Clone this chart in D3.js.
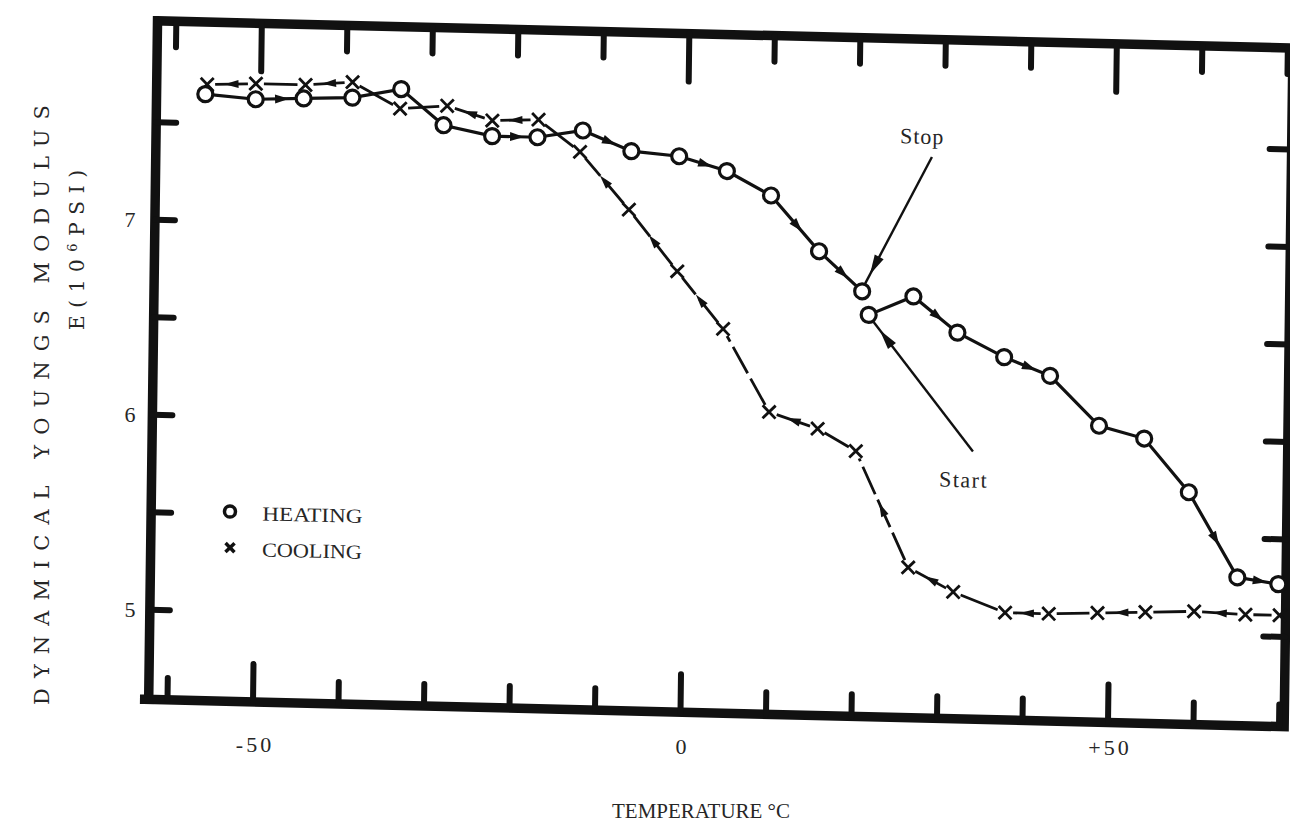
<!DOCTYPE html>
<html><head><meta charset="utf-8">
<script src="https://cdn.jsdelivr.net/npm/d3@7"></script>
<style>
body{margin:0;background:#fff}
svg{display:block}
text{font-family:"Liberation Serif","DejaVu Serif",serif;fill:#262626}
</style>
</head><body>
<svg id="chart" width="1290" height="829"></svg>
<script>
// ---- data (temperature °C, modulus 10^6 psi) ----
const tempHeatA = [-56.5,-50.6,-45.0,-39.3,-33.6,-28.6,-22.9,-17.6,-12.3,-6.6,-1.0,4.6,9.8,15.5,20.6];
const modHeatA  = [7.65,7.63,7.64,7.65,7.70,7.52,7.47,7.47,7.51,7.41,7.39,7.32,7.20,6.92,6.72];
const tempHeatB = [21.4,26.6,31.8,37.3,42.7,48.5,53.8,59.1,64.9,69.7];
const modHeatB  = [6.60,6.70,6.52,6.40,6.31,6.06,6.00,5.73,5.30,5.27];
const tempCool  = [69.9,65.9,59.9,54.2,48.6,42.9,37.8,31.7,26.4,20.1,15.6,9.9,4.4,-1.05,-6.8,-12.6,-17.5,-22.9,-28.2,-33.7,-39.3,-44.8,-50.6,-56.3];
const modCool   = [5.11,5.11,5.12,5.11,5.10,5.09,5.09,5.19,5.31,5.90,6.01,6.09,6.51,6.80,7.11,7.40,7.56,7.55,7.62,7.60,7.73,7.71,7.71,7.70];
const heatArrowsA = [1,6,8,10,12,13];
const heatArrowsB = [1,3,7,8];
const coolArrows  = [1,3,5,7,8,10,12,13,14,16,17,20,22];
const xTicks = [-60,-50,-40,-30,-20,-10,0,10,20,30,40,50,60,70];
const xMajor = [-50,0,50];
const yTicks = [5,5.5,6,6.5,7,7.5];
const xLabelValues = [-50,0,50];
const xLabelTexts  = ["-50","0","+50"];
const yLabelValues = [5,6,7];
const seriesNames = ["HEATING","COOLING"];

const svg = d3.select("#chart");
const x = d3.scaleLinear().domain([-50,50]).range([253,1108]);
const y = d3.scaleLinear().domain([5,7]).range([610,220]);

// scanned page is slightly skewed
const skA = -0.013, skB = 0.024, pvX = 160, pvY = 700;
const g = svg.append("g")
  .attr("transform", `matrix(1,${skB},${skA},1,${-skA*pvY},${-skB*pvX})`);

const ink = "#111";
const xL = x(-62.2), xR = x(70.6), yT = y(8.02), yB = y(4.54);

// frame
g.append("path")
  .attr("d", `M${xL},${yT}H${xR}V${yB}H${xL-4}M${xL},${yB}V${yT}`)
  .attr("fill","none").attr("stroke",ink).attr("stroke-width",9.5)
  .attr("stroke-linejoin","miter").attr("stroke-linecap","square");

// ticks
const tickW = 6;
g.selectAll(".tt").data(xTicks).join("line")
  .attr("x1",d=>x(d)).attr("x2",d=>x(d))
  .attr("y1",yT).attr("y2",d=>yT + (xMajor.includes(d)?48:26))
  .attr("stroke",ink).attr("stroke-width",tickW).attr("stroke-linecap","round");
g.selectAll(".bt").data(xTicks).join("line")
  .attr("x1",d=>x(d)).attr("x2",d=>x(d))
  .attr("y1",yB).attr("y2",d=>yB - (xMajor.includes(d)?38:22))
  .attr("stroke",ink).attr("stroke-width",tickW).attr("stroke-linecap","round");
g.selectAll(".lt").data(yTicks).join("line")
  .attr("x1",xL).attr("x2",xL+20)
  .attr("y1",d=>y(d)).attr("y2",d=>y(d))
  .attr("stroke",ink).attr("stroke-width",tickW).attr("stroke-linecap","round");
g.selectAll(".rt").data(yTicks).join("line")
  .attr("x1",xR).attr("x2",xR-22)
  .attr("y1",d=>y(d)).attr("y2",d=>y(d))
  .attr("stroke",ink).attr("stroke-width",tickW).attr("stroke-linecap","round");

// helpers
const pts = (ts, es) => ts.map((t,i)=>[x(t), y(es[i])]);
const heatA = pts(tempHeatA, modHeatA);
const heatB = pts(tempHeatB, modHeatB);
const cool  = pts(tempCool, modCool);
const line = d3.line();

function arrowAt(p0, p1, len, wid, frac){
  if (!p0 || !p1) return;
  const a = Math.atan2(p1[1]-p0[1], p1[0]-p0[0]);
  const mx = p0[0] + (p1[0]-p0[0])*frac, my = p0[1] + (p1[1]-p0[1])*frac;
  g.append("path")
    .attr("d", `M${len/2},0L${-len/2},${-wid/2}L${-len/2},${wid/2}Z`)
    .attr("transform", `translate(${mx},${my}) rotate(${a*180/Math.PI})`)
    .attr("fill", ink);
}

// cooling line (broken segments)
const gap = 8;
for (let i=0;i<cool.length-1;i++){
  const p0 = cool[i], p1 = cool[i+1];
  const dx = p1[0]-p0[0], dy = p1[1]-p0[1], L = Math.hypot(dx,dy);
  const ux = dx/L, uy = dy/L;
  const s = [p0[0]+ux*gap, p0[1]+uy*gap], e = [p1[0]-ux*gap, p1[1]-uy*gap];
  g.append("path").attr("d", line([s,e]))
    .attr("stroke",ink).attr("stroke-width",2.8).attr("fill","none")
    .attr("stroke-dasharray", L>70 ? "30,6" : null);
}
coolArrows.forEach(i=>arrowAt(cool[i], cool[i+1], 14, 8, 0.5));

// heating lines
[heatA, heatB].forEach(p=>{
  g.append("path").attr("d", line(p))
    .attr("stroke",ink).attr("stroke-width",3.2).attr("fill","none");
});
heatArrowsA.forEach(i=>arrowAt(heatA[i], heatA[i+1], 14, 9, 0.55));
heatArrowsB.forEach(i=>arrowAt(heatB[i], heatB[i+1], 14, 9, 0.55));

// markers
const crossPath = s => `M${-s},${-s}L${s},${s}M${-s},${s}L${s},${-s}`;
g.selectAll(".cx").data(cool).join("path")
  .attr("d", crossPath(6.5))
  .attr("transform", d=>`translate(${d[0]},${d[1]})`)
  .attr("stroke",ink).attr("stroke-width",2.8).attr("fill","none");
g.selectAll(".ha").data(heatA.concat(heatB)).join("circle")
  .attr("cx",d=>d[0]).attr("cy",d=>d[1]).attr("r",7.5)
  .attr("fill","#fff").attr("stroke",ink).attr("stroke-width",3.2);

// annotations
const stopP = heatA[heatA.length-1], startP = heatB[0];
function pointer(from, to){
  g.append("path").attr("d", line([from,to]))
    .attr("stroke",ink).attr("stroke-width",2.4).attr("fill","none");
  const a = Math.atan2(to[1]-from[1], to[0]-from[0]);
  const tip = [to[0]-Math.cos(a)*10, to[1]-Math.sin(a)*10];
  g.append("path").attr("d","M0,0L-20,-5L-20,5Z")
    .attr("transform",`translate(${tip[0]},${tip[1]}) rotate(${a*180/Math.PI})`)
    .attr("fill",ink);
}
pointer([stopP[0]+68, stopP[1]-136], [stopP[0]+3, stopP[1]-8]);
pointer([startP[0]+106, startP[1]+134], [startP[0]+5, startP[1]+7]);
g.append("text").attr("x",stopP[0]+58).attr("y",stopP[1]-149)
  .attr("text-anchor","middle").attr("font-size",22).attr("letter-spacing",1).text("Stop");
g.append("text").attr("x",startP[0]+97).attr("y",startP[1]+170)
  .attr("text-anchor","middle").attr("font-size",22).attr("letter-spacing",1.5).text("Start");

// legend
g.append("circle").attr("cx",227.5).attr("cy",510).attr("r",5.5)
  .attr("fill","#fff").attr("stroke",ink).attr("stroke-width",3.5);
g.append("path").attr("d",crossPath(4.5)).attr("transform","translate(228,546)")
  .attr("stroke",ink).attr("stroke-width",3.5);
g.append("text").attr("x",260).attr("y",518).attr("font-size",20)
  .attr("textLength",100).attr("lengthAdjust","spacingAndGlyphs").text(seriesNames[0]);
g.append("text").attr("x",260).attr("y",554).attr("font-size",20)
  .attr("textLength",100).attr("lengthAdjust","spacingAndGlyphs").text(seriesNames[1]);

// tick labels (typed separately, unskewed)
svg.selectAll(".xl").data(xLabelValues).join("text")
  .attr("x",d=>x(d)+2).attr("y",(d,i)=>752+i*1.5)
  .attr("text-anchor","middle").attr("font-size",22).attr("letter-spacing",3)
  .text((d,i)=>xLabelTexts[i]);
svg.selectAll(".yl").data(yLabelValues).join("text")
  .attr("x",130).attr("y",d=>y(d)+7)
  .attr("text-anchor","middle").attr("font-size",22)
  .text(d=>d);

// axis titles
svg.append("text").attr("x",701).attr("y",818).attr("text-anchor","middle")
  .attr("font-size",20).attr("textLength",178).attr("lengthAdjust","spacingAndGlyphs")
  .text("TEMPERATURE  °C");
svg.append("text").attr("transform","translate(49,405) rotate(-90)")
  .attr("text-anchor","middle").attr("font-size",21)
  .style("font-family","'DejaVu Serif',serif")
  .attr("textLength",600).attr("lengthAdjust","spacing")
  .text("DYNAMICAL   YOUNGS   MODULUS");
const t2 = svg.append("text").attr("transform","translate(84,250) rotate(-90)")
  .attr("text-anchor","middle").attr("font-size",20)
  .style("font-family","'DejaVu Serif',serif")
  .attr("textLength",160).attr("lengthAdjust","spacing");
t2.append("tspan").text("E(10");
t2.append("tspan").attr("baseline-shift","super").attr("font-size",13).text("6");
t2.append("tspan").text("PSI)");
</script>
</body></html>
